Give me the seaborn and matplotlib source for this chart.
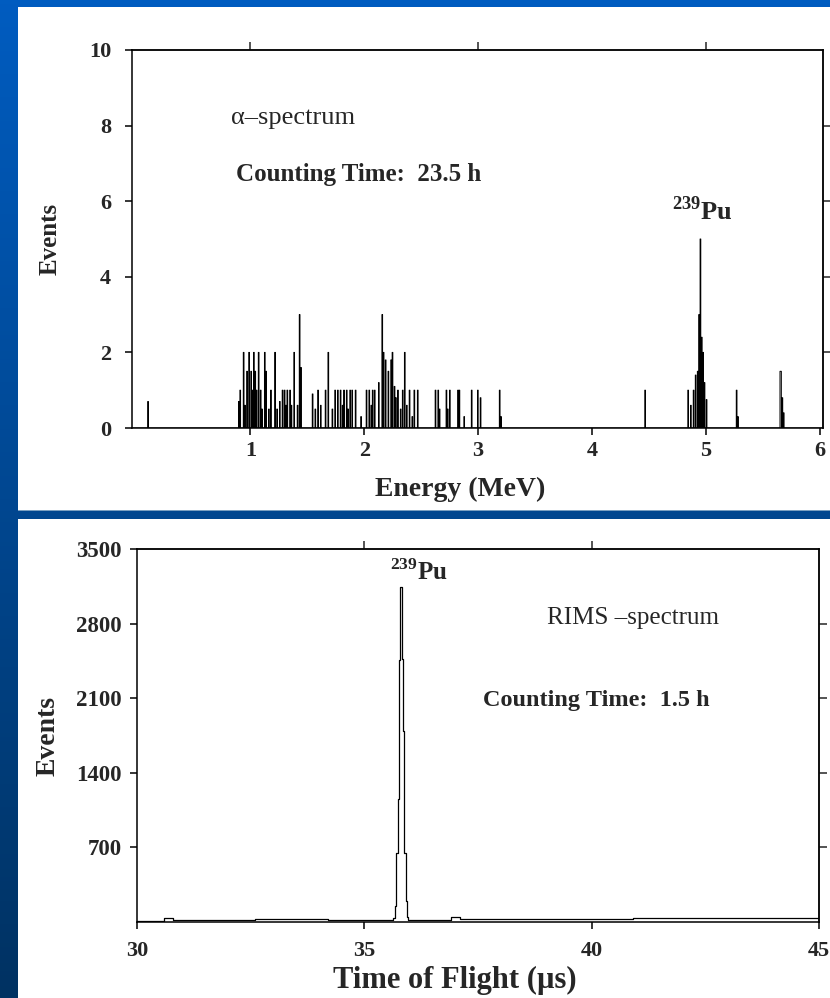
import numpy as np
import pandas as pd
import matplotlib
matplotlib.use("Agg")
import matplotlib.pyplot as plt
from matplotlib.patches import Rectangle
import seaborn as sns

# ---------------- data ----------------
# alpha spectrum: channel energies (MeV) and events per channel
alpha_energy = [0.10, 0.900, 0.912, 0.941, 0.955, 0.971, 0.991, 1.006, 1.017, 1.032,
                1.044, 1.057, 1.071, 1.088, 1.100, 1.126, 1.138, 1.162, 1.183, 1.215,
                1.236, 1.258, 1.280, 1.300, 1.315, 1.324, 1.347, 1.360, 1.382, 1.412,
                1.435, 1.447, 1.545, 1.570, 1.594, 1.620, 1.662, 1.686, 1.720, 1.744,
                1.771, 1.794, 1.810, 1.824, 1.845, 1.860, 1.877, 1.897, 1.927, 1.970,
                2.021, 2.044, 2.060, 2.074, 2.094, 2.130, 2.156, 2.171, 2.191, 2.212,
                2.236, 2.250, 2.265, 2.280, 2.295, 2.320, 2.339, 2.359, 2.377, 2.397,
                2.420, 2.441, 2.471, 2.627, 2.648, 2.660, 2.721, 2.735, 2.750, 2.824,
                2.838, 2.880, 2.942, 3.000, 3.020, 3.188, 3.200, 4.466, 4.847, 4.868,
                4.891, 4.911, 4.928, 4.944, 4.956, 4.966, 4.977, 4.991, 5.006, 5.274,
                5.286, 5.653, 5.664, 5.675, 5.687]
alpha_counts = [0.7, 0.7, 1.0, 2.0, 0.6, 1.5, 2.0, 1.5, 1.0, 2.0,
                1.5, 1.0, 2.0, 1.0, 0.5, 2.0, 1.5, 0.5, 1.0, 2.0,
                0.5, 0.7, 1.0, 1.0, 0.6, 1.0, 1.0, 0.6, 2.0, 0.6,
                3.0, 1.6, 0.9, 0.5, 1.0, 0.6, 1.0, 2.0, 0.5, 1.0,
                1.0, 1.0, 0.6, 1.0, 1.0, 0.5, 1.0, 1.0, 1.0, 0.3,
                1.0, 1.0, 0.6, 1.0, 1.0, 1.2, 3.0, 2.0, 1.8, 1.5,
                1.8, 2.0, 1.1, 0.8, 1.0, 0.5, 1.0, 2.0, 0.6, 1.0,
                0.3, 1.0, 1.0, 1.0, 1.0, 0.5, 1.0, 0.5, 1.0, 1.0,
                1.0, 0.3, 1.0, 1.0, 0.8, 1.0, 0.3, 1.0, 1.0, 0.6,
                1.0, 1.4, 1.5, 3.0, 5.0, 2.4, 2.0, 1.2, 0.75, 1.0,
                0.3, 1.5, 1.5, 0.8, 0.4]
alpha_xticks = [1, 2, 3, 4, 5, 6]
alpha_yticks = [0, 2, 4, 6, 8, 10]

# RIMS time-of-flight spectrum: bin edges (us) and counts per bin
tof_edges = [30.0, 30.6, 30.8, 32.6, 34.2, 35.64, 35.67, 35.70, 35.73, 35.76,
             35.79, 35.82, 35.85, 35.88, 35.91, 35.94, 35.97, 36.9, 37.1, 40.9, 45.0]
tof_counts = [10, 40, 15, 25, 15, 40, 150, 650, 1150, 2460,
              3140, 2470, 1790, 650, 200, 50, 20, 45, 25, 40]
tof_xticks = [30, 35, 40, 45]
tof_yticks = [700, 1400, 2100, 2800, 3500]

# ---------------- style ----------------
sns.set_style("ticks")
plt.rcParams["font.family"] = ["Liberation Serif", "DejaVu Serif"]
plt.rcParams["mathtext.fontset"] = "custom"
plt.rcParams["mathtext.rm"] = "Liberation Serif:bold"
plt.rcParams["mathtext.bf"] = "Liberation Serif:bold"
plt.rcParams["axes.linewidth"] = 1.1

W, H = 830, 998
fig = plt.figure(figsize=(W / 100, H / 100), dpi=100)

# background gradient + white panels
bg = fig.add_axes([0, 0, 1, 1])
top_c = np.array([0x00, 0x5c, 0xc0]) / 255
bot_c = np.array([0x00, 0x32, 0x62]) / 255
t = np.linspace(0, 1, 256)[:, None]
grad = (top_c[None, :] * (1 - t) + bot_c[None, :] * t)[:, None, :]
bg.imshow(grad, aspect="auto", extent=[0, W, H, 0])
bg.add_patch(Rectangle((18, 7), W - 18, 503, facecolor="white", edgecolor="none"))
bg.add_patch(Rectangle((18, 510), W - 18, 1.2, facecolor="#7a9fc0", edgecolor="none"))
bg.add_patch(Rectangle((18, 519), W - 18, H - 519, facecolor="white", edgecolor="none"))
bg.set_xlim(0, W)
bg.set_ylim(H, 0)
bg.axis("off")


def px_axes(left, right, top, bottom):
    return fig.add_axes([left / W, 1 - bottom / H, (right - left) / W, (bottom - top) / H])


# ---------------- top: alpha spectrum ----------------
ax1 = px_axes(132, 823, 50, 428)
ax1.set_facecolor("white")
alpha_df = pd.DataFrame({"energy": alpha_energy, "events": alpha_counts})
sns.histplot(data=alpha_df, x="energy", weights="events", binwidth=0.006,
             binrange=(-0.04, 6.03), element="step", fill=False,
             color="black", linewidth=0.7, ax=ax1)
ax1.set_xlim(-0.04, 6.03)
ax1.set_ylim(0, 10)
ax1.set_xticks(alpha_xticks)
ax1.set_yticks(alpha_yticks)
ax1.set_xticklabels([str(v) for v in alpha_xticks], fontsize=16, fontweight="bold")
ax1.set_yticklabels([str(v) for v in alpha_yticks], fontsize=16, fontweight="bold")
ax1.tick_params(axis="x", direction="out", length=5, width=1.1, color="black", pad=4)
ax1.tick_params(axis="y", direction="out", length=5, width=1.1, color="black", pad=10)
ax1.set_xlabel("Energy (MeV)", fontsize=20, fontweight="bold", labelpad=12)
ax1.xaxis.label.set_x(0.475)
ax1.set_ylabel("Events", fontsize=18, fontweight="bold", labelpad=20)
for s in ax1.spines.values():
    s.set_visible(True)
    s.set_color("black")
sec = ax1.secondary_xaxis("top")
sec.set_xticks([1, 3, 5])
sec.set_xticklabels([])
sec.tick_params(direction="out", length=6, width=1.1)
secy = ax1.secondary_yaxis("right")
secy.set_yticks([2, 4, 6, 8])
secy.set_yticklabels([])
secy.tick_params(direction="out", length=6, width=1.1)

ax1.text(0.83, 8.2, "α–spectrum", fontsize=19, va="center", ha="left")
ax1.text(0.87, 6.7, "Counting Time:  23.5 h", fontsize=18, fontweight="bold",
         va="center", ha="left")
ax1.text(4.97, 5.75, r"$^{239}$Pu", fontsize=19, fontweight="bold",
         va="center", ha="center")

# ---------------- bottom: RIMS spectrum ----------------
ax2 = px_axes(137, 819, 549, 922)
ax2.set_facecolor("white")
tof_centers = [(a + b) / 2 for a, b in zip(tof_edges[:-1], tof_edges[1:])]
tof_df = pd.DataFrame({"tof": tof_centers, "events": tof_counts})
sns.histplot(data=tof_df, x="tof", weights="events", bins=tof_edges,
             element="step", fill=False, color="black", linewidth=0.9, ax=ax2)
ax2.set_xlim(30, 45)
ax2.set_ylim(0, 3500)
ax2.set_xticks(tof_xticks)
ax2.set_yticks(tof_yticks)
ax2.set_xticklabels([str(v) for v in tof_xticks], fontsize=16, fontweight="bold")
ax2.set_yticklabels([str(v) for v in tof_yticks], fontsize=16.5, fontweight="bold")
ax2.tick_params(axis="x", direction="out", length=5, width=1.1, color="black", pad=9)
ax2.tick_params(axis="y", direction="out", length=5, width=1.1, color="black", pad=6)
ax2.set_xlabel("Time of Flight (µs)", fontsize=22, fontweight="bold", labelpad=3)
ax2.xaxis.label.set_x(0.466)
ax2.set_ylabel("Events", fontsize=20, fontweight="bold", labelpad=11)
for s in ax2.spines.values():
    s.set_visible(True)
    s.set_color("black")
sec2 = ax2.secondary_xaxis("top")
sec2.set_xticks([35, 40])
sec2.set_xticklabels([])
sec2.tick_params(direction="out", length=6, width=1.1)
secy2 = ax2.secondary_yaxis("right")
secy2.set_yticks([700, 1400, 2100, 2800])
secy2.set_yticklabels([])
secy2.tick_params(direction="out", length=6, width=1.1)

ax2.text(36.2, 3280, r"$^{239}$Pu", fontsize=18, fontweight="bold",
         va="center", ha="center")
ax2.text(40.9, 2850, "RIMS –spectrum", fontsize=18, va="center", ha="center")
ax2.text(40.1, 2080, "Counting Time:  1.5 h", fontsize=17.5, fontweight="bold",
         va="center", ha="center")

fig.savefig("out.png", dpi=100)
